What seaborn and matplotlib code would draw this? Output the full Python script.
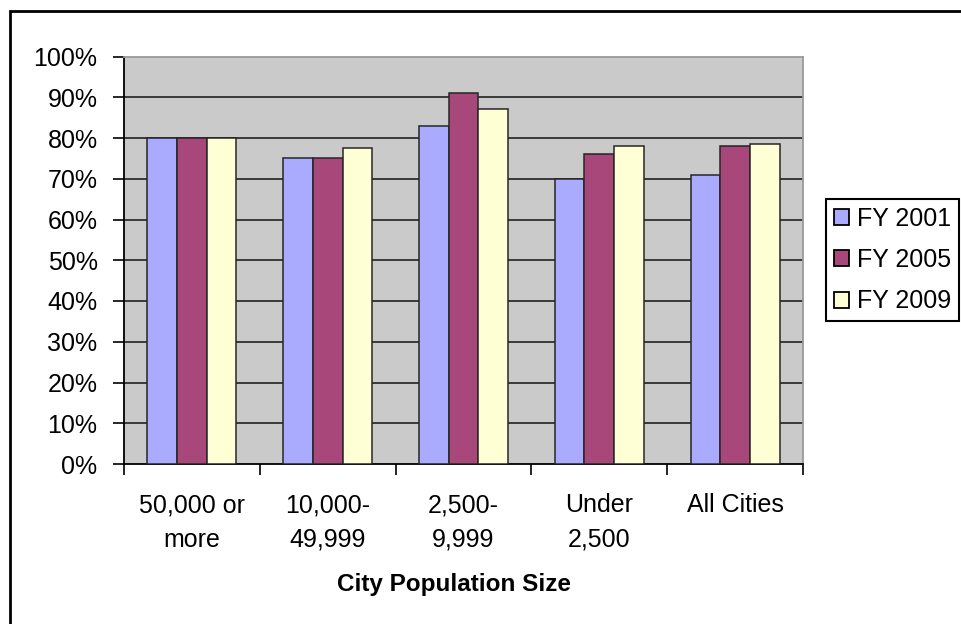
import matplotlib
matplotlib.use("Agg")
import matplotlib.pyplot as plt
import matplotlib.patches as mpatches
import numpy as np
import pandas as pd
import seaborn as sns

# Share of cities by population size, three fiscal years
categories = ["50,000 or\nmore", "10,000-\n49,999", "2,500-\n9,999", "Under\n2,500", "All Cities"]
years = ["FY 2001", "FY 2005", "FY 2009"]
fy2001 = [80, 75, 83, 70, 71]
fy2005 = [80, 75, 91, 76, 78]
fy2009 = [80, 77.5, 87, 78, 78.5]
y_ticks = [0, 10, 20, 30, 40, 50, 60, 70, 80, 90, 100]
y_tick_labels = [f"{t}%" for t in y_ticks]

colors = ["#AAABFF", "#A8487A", "#FFFFD6"]

df = pd.DataFrame({
    "category": categories * 3,
    "year": [years[0]] * 5 + [years[1]] * 5 + [years[2]] * 5,
    "value": fy2001 + fy2005 + fy2009,
})

sns.set_theme(style="white")
plt.rcParams["font.family"] = ["Liberation Sans", "DejaVu Sans"]
plt.rcParams["text.color"] = "black"
plt.rcParams["axes.labelcolor"] = "black"
plt.rcParams["xtick.color"] = "black"
plt.rcParams["ytick.color"] = "black"

W, H = 961, 624
fig = plt.figure(figsize=(W / 100, H / 100), dpi=100)
fig.patch.set_facecolor("white")

left, right, top, bottom = 124, 803, 56.5, 464
ax = fig.add_axes([left / W, 1 - bottom / H, (right - left) / W, (bottom - top) / H])
ax.set_facecolor("#CACACA")

sns.barplot(data=df, x="category", y="value", hue="year", order=categories,
            hue_order=years, palette=colors, width=0.655, gap=0,
            edgecolor="#262626", linewidth=1.1, saturation=1, ax=ax, zorder=3)

ax.set_ylim(0, 100)
ax.set_xlim(-0.5, len(categories) - 0.5)
ax.set_yticks(y_ticks)
ax.set_yticklabels(y_tick_labels, fontsize=18)
for t in y_ticks[1:-1]:
    ax.axhline(t, color="#2E2E2E", lw=1.3, zorder=1)

ax.tick_params(axis="y", direction="out", length=8, width=1.2, color="black",
               pad=11, left=True, labelcolor="black")
ax.tick_params(axis="x", which="major", length=0, pad=21, labelsize=18,
               labelcolor="black")
ax.set_xticks(np.arange(-0.5, len(categories), 1.0), minor=True)
ax.tick_params(axis="x", which="minor", direction="out", length=8, width=1.2,
               color="black", bottom=True)
for lbl in ax.get_xticklabels():
    lbl.set_linespacing(1.55)
    lbl.set_verticalalignment("top")

for side in ["left", "bottom"]:
    ax.spines[side].set_color("black")
    ax.spines[side].set_linewidth(1.3)
for side in ["top", "right"]:
    ax.spines[side].set_color("#9A9A9A")
    ax.spines[side].set_linewidth(1.3)

ax.set_ylabel("")
ax.set_xlabel("City Population Size", fontsize=17.5, fontweight="bold", color="black")
ax.xaxis.set_label_coords(0.486, -0.2675)
ax.xaxis.label.set_verticalalignment("top")

# Legend box at the right edge
if ax.get_legend() is not None:
    ax.get_legend().remove()
handles = [mpatches.Patch(facecolor=c, edgecolor="black", linewidth=1.3) for c in colors]
leg = fig.legend(handles, years, loc="upper left",
                 bbox_to_anchor=(826 / W, 1 - 199 / H), bbox_transform=fig.transFigure,
                 fontsize=18, frameon=True, fancybox=False, framealpha=1,
                 edgecolor="black", borderaxespad=0, borderpad=0.3,
                 handlelength=0.6, handleheight=0.6, handletextpad=0.35,
                 labelspacing=0.7)
leg.get_frame().set_linewidth(1.5)
for txt in leg.get_texts():
    txt.set_color("black")

# Outer chart frame (top and left edges visible)
frame = mpatches.Rectangle((9.5 / W, -0.2), 1.5, 1 - 11 / H + 0.2,
                           transform=fig.transFigure, fill=False,
                           edgecolor="black", linewidth=2, clip_on=False)
fig.patches.append(frame)

fig.savefig("out.png", dpi=100, facecolor="white")
